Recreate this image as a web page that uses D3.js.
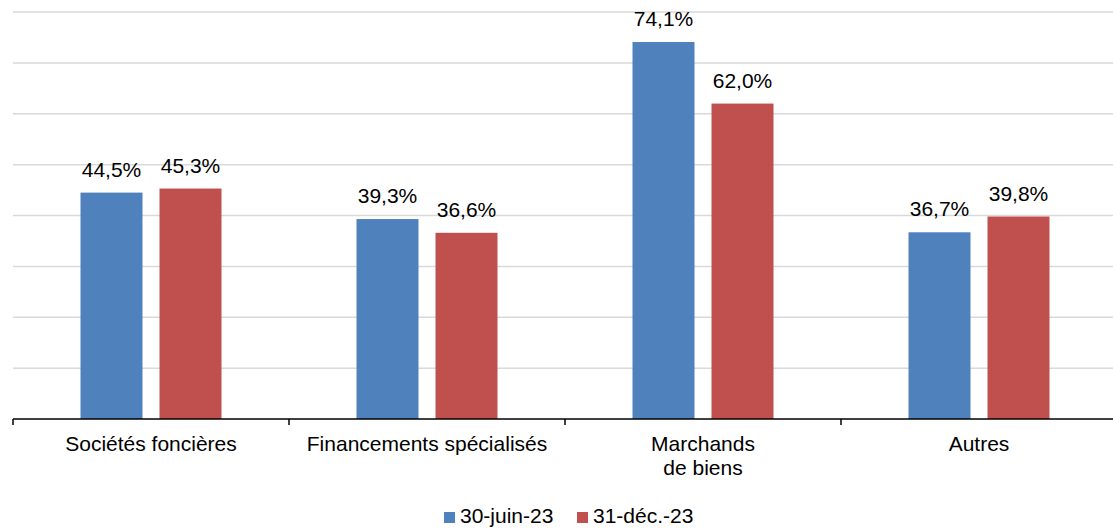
<!DOCTYPE html>
<html>
<head>
<meta charset="utf-8">
<script src="https://cdn.jsdelivr.net/npm/d3@7"></script>
<style>
  body { margin: 0; background: #fff; }
  text { font-family: "Liberation Sans", Arial, sans-serif; fill: #000; }
</style>
</head>
<body>
<svg id="chart"></svg>
<script>
// data
var categories = [["Sociétés foncières"], ["Financements spécialisés"], ["Marchands", "de biens"], ["Autres"]];
var seriesNames = ["30-juin-23", "31-déc.-23"];
var juin23 = [44.5, 39.3, 74.1, 36.7];
var dec23 = [45.3, 36.6, 62.0, 39.8];
var colors = ["#4F81BD", "#C0504D"];
var yTicks = [0, 10, 20, 30, 40, 50, 60, 70, 80];

var W = 1113, H = 532;
var margin = {top: 12, right: 0, bottom: 113, left: 13}
  , width = W - margin.left - margin.right
  , height = H - margin.top - margin.bottom;

var svg = d3.select("#chart").attr("width", W).attr("height", H);
var g = svg.append("g").attr("transform", "translate(" + margin.left + "," + margin.top + ")");

var keys = categories.map(function (c) { return c.join(" "); });

var x = d3.scaleBand().domain(keys).range([0, 276 * 4]);
var x1 = d3.scaleBand().domain([0, 1]).range([0, 141]).paddingInner(17 / 79);

var y = d3.scaleLinear().domain([0, 80]).range([height, 0]);

// gridlines
g.selectAll(".grid")
  .data(yTicks.slice(1))
  .enter().append("line")
  .attr("x1", 0).attr("x2", width)
  .attr("y1", function (d) { return y(d); })
  .attr("y2", function (d) { return y(d); })
  .attr("stroke", "#d9d9d9").attr("stroke-width", 1.5);

var series = [juin23, dec23];

var groups = g.selectAll(".grp")
  .data(keys)
  .enter().append("g")
  .attr("transform", function (d) { return "translate(" + (x(d) + x.bandwidth() / 2 - 70.5) + ",0)"; });

groups.each(function (k, i) {
  var gg = d3.select(this);
  series.forEach(function (s, j) {
    gg.append("rect")
      .attr("x", x1(j))
      .attr("y", y(s[i]))
      .attr("width", x1.bandwidth())
      .attr("height", height - y(s[i]))
      .attr("fill", colors[j]);
    gg.append("text")
      .attr("x", x1(j) + x1.bandwidth() / 2)
      .attr("y", y(s[i]) - 16)
      .attr("text-anchor", "middle")
      .style("font-size", "21px")
      .text(d3.format(".1f")(s[i]).replace(".", ",") + "%");
  });
});

// x axis
var axis = g.append("g").attr("transform", "translate(0," + height + ")");
axis.append("line").attr("x1", 0).attr("x2", width).attr("stroke", "#000").attr("stroke-width", 1.5);
axis.selectAll(".tick")
  .data(keys)
  .enter().append("line")
  .attr("x1", function (d) { return x(d); })
  .attr("x2", function (d) { return x(d); })
  .attr("y1", 0).attr("y2", 6)
  .attr("stroke", "#000").attr("stroke-width", 1.5);

axis.selectAll(".lab")
  .data(categories)
  .enter().append("text")
  .attr("text-anchor", "middle")
  .style("font-size", "21px")
  .attr("transform", function (d, i) { return "translate(" + (x(keys[i]) + x.bandwidth() / 2) + ",32)"; })
  .each(function (d) {
    var t = d3.select(this);
    d.forEach(function (line, li) {
      t.append("tspan").attr("x", 0).attr("dy", li === 0 ? 0 : 24).text(line);
    });
  });

// legend
var legend = svg.append("g").attr("transform", "translate(444,512)");
var lx = [0, 133];
seriesNames.forEach(function (n, j) {
  legend.append("rect").attr("x", lx[j]).attr("y", 0).attr("width", 11).attr("height", 11).attr("fill", colors[j]);
  legend.append("text").attr("x", lx[j] + 16).attr("y", 11).style("font-size", "21px").text(n);
});
</script>
</body>
</html>
